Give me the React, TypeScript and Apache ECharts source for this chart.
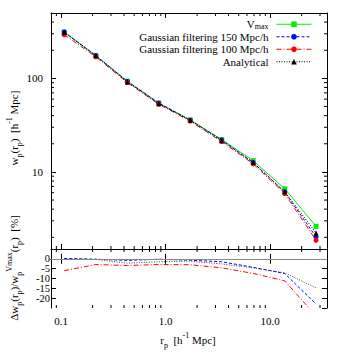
import React, { useEffect, useRef } from 'react';
import * as echarts from 'echarts';

const rp = [0.107, 0.215, 0.43, 0.86, 1.72, 3.44, 6.88, 13.8, 27.5];
const wVmax = [312, 175, 93.5, 54.5, 36, 22.2, 13.2, 6.6, 2.62];
const wGauss150 = [313, 175, 92.8, 54.5, 35.7, 21.9, 12.6, 6.1, 2.02];
const wGauss100 = [293, 170, 90.3, 52.9, 34.9, 21.1, 12.2, 5.85, 1.86];
const wAnalytical = [312, 174.5, 91.6, 53.7, 35.6, 21.6, 12.6, 6.13, 2.23];
const dGauss150 = [0.2, -0.2, -0.8, -0.2, -0.7, -1.5, -4.3, -7.5, -23];
const dGauss100 = [-6.0, -2.9, -3.4, -2.9, -3.0, -4.6, -7.4, -11.2, -29];
const dAnalytical = [0, -0.3, -2.2, -1.5, -1.2, -2.6, -4.6, -7.1, -14.8];
const xMinorTicks = [0.09, 0.2, 0.3, 0.4, 0.5, 0.6, 0.7, 0.8, 0.9, 2, 3, 4, 5, 6, 7, 8, 9, 20, 30];
const yMinorTicks = [2, 3, 4, 5, 6, 7, 8, 9, 20, 30, 40, 50, 60, 70, 80, 90, 200, 300, 400];
const legendNames = ['Vmax', 'Gaussian filtering 150 Mpc/h', 'Gaussian filtering 100 Mpc/h', 'Analytical'];

const FONT = "'Liberation Serif', 'Times New Roman', serif";
const GREEN = '#00ee00';
const BLUE = '#0000ff';
const RED = '#ff0000';
const BLACK = '#000000';

const MINOR = 3;
const MAJOR = 5;

function pairs(ys: number[]) {
  return rp.map((x, i) => [x, ys[i]]);
}

export default function App() {
  const ref = useRef<HTMLDivElement>(null);
  useEffect(() => {
    document.body.style.margin = '0';
    if (!ref.current) return;
    const chart = echarts.init(ref.current, null, { renderer: 'svg' });

    const tickStyle = { color: '#000', width: 1 };
    const baseX = (gridIndex: number, position: string, labels: boolean) => ({
      type: 'log',
      gridIndex,
      position,
      min: 0.08,
      max: 35,
      logBase: 10,
      axisLine: { show: true, lineStyle: { color: '#000', width: 1 } },
      axisTick: { show: true, inside: true, length: MAJOR, lineStyle: tickStyle },
      splitLine: { show: false },
      axisLabel: {
        show: labels,
        showMinLabel: false,
        showMaxLabel: false,
        margin: 7,
        fontFamily: FONT,
        fontSize: 11,
        color: '#000',
        formatter: (v: number) => v.toFixed(1),
      },
    });

    const minorX = (xi: number, yi: number, yDummy: number) => ({
      type: 'custom',
      xAxisIndex: xi,
      yAxisIndex: yi,
      silent: true,
      clip: false,
      z: 5,
      data: xMinorTicks.map((v) => [v, yDummy]),
      renderItem: (params: any, api: any) => {
        const cs = params.coordSys;
        const px = api.coord([api.value(0), api.value(1)])[0];
        const b = cs.y + cs.height;
        return {
          type: 'group',
          children: [
            { type: 'line', shape: { x1: px, y1: b, x2: px, y2: b - MINOR }, style: { stroke: '#000', lineWidth: 1 } },
            { type: 'line', shape: { x1: px, y1: cs.y, x2: px, y2: cs.y + MINOR }, style: { stroke: '#000', lineWidth: 1 } },
          ],
        };
      },
    });

    const minorY = {
      type: 'custom',
      xAxisIndex: 0,
      yAxisIndex: 0,
      silent: true,
      clip: false,
      z: 5,
      data: yMinorTicks.map((v) => [1, v]),
      renderItem: (params: any, api: any) => {
        const cs = params.coordSys;
        const py = api.coord([api.value(0), api.value(1)])[1];
        const r = cs.x + cs.width;
        return {
          type: 'group',
          children: [
            { type: 'line', shape: { x1: cs.x, y1: py, x2: cs.x + MINOR, y2: py }, style: { stroke: '#000', lineWidth: 1 } },
            { type: 'line', shape: { x1: r, y1: py, x2: r - MINOR, y2: py }, style: { stroke: '#000', lineWidth: 1 } },
          ],
        };
      },
    };

    const richMain = { fontFamily: FONT, fontSize: 11, color: '#000', lineHeight: 18 };
    const richSub = { fontFamily: FONT, fontSize: 8, color: '#000', lineHeight: 8, verticalAlign: 'bottom' };
    const richSup = { fontFamily: FONT, fontSize: 8, color: '#000', lineHeight: 8, verticalAlign: 'top' };
    const rich = { m: richMain, sub: richSub, sup: richSup };

    const option: any = {
      animation: false,
      backgroundColor: '#fff',
      grid: [
        { left: 51, top: 13, width: 276, height: 236 },
        { left: 51, top: 249, width: 276, height: 59 },
      ],
      xAxis: [
        baseX(0, 'bottom', false),
        baseX(0, 'top', false),
        baseX(1, 'bottom', true),
        baseX(1, 'top', false),
      ],
      yAxis: [
        {
          type: 'log',
          gridIndex: 0,
          position: 'left',
          min: 1.5,
          max: 500,
          axisLine: { show: true, lineStyle: { color: '#000', width: 1 } },
          axisTick: { show: true, inside: true, length: MAJOR, lineStyle: tickStyle },
          splitLine: { show: false },
          axisLabel: {
            showMinLabel: false,
            showMaxLabel: false,
            margin: 8,
            fontFamily: FONT,
            fontSize: 11,
            color: '#000',
            formatter: (v: number) => String(Math.round(v)),
          },
        },
        {
          type: 'log',
          gridIndex: 0,
          position: 'right',
          min: 1.5,
          max: 500,
          axisLine: { show: true, lineStyle: { color: '#000', width: 1 } },
          axisTick: { show: true, inside: true, length: MAJOR, lineStyle: tickStyle },
          splitLine: { show: false },
          axisLabel: { show: false },
        },
        {
          type: 'value',
          gridIndex: 1,
          position: 'left',
          min: -25,
          max: 5,
          interval: 5,
          axisLine: { show: true, lineStyle: { color: '#000', width: 1 } },
          axisTick: { show: true, inside: true, length: MAJOR, lineStyle: tickStyle },
          splitLine: { show: false },
          axisLabel: {
            margin: 1,
            fontFamily: FONT,
            fontSize: 10.5,
            lineHeight: 9,
            color: '#000',
          },
        },
        {
          type: 'value',
          gridIndex: 1,
          position: 'right',
          min: -25,
          max: 5,
          interval: 5,
          axisLine: { show: true, lineStyle: { color: '#000', width: 1 } },
          axisTick: { show: true, inside: true, length: MAJOR, lineStyle: tickStyle },
          splitLine: { show: false },
          axisLabel: { show: false },
        },
      ],
      legend: {
        data: legendNames,
        orient: 'vertical',
        right: 29,
        top: 18,
        padding: 0,
        align: 'right',
        itemWidth: 35,
        itemHeight: 7,
        itemGap: 0,
        selectedMode: false,
        lineStyle: { width: 1 },
        formatter: (name: string) => (name === 'Vmax' ? '{m|V}{sub|max}' : '{m|' + name + '}'),
        textStyle: {
          fontFamily: FONT,
          fontSize: 11,
          color: '#000',
          lineHeight: 12.5,
          padding: [0, 3, 0, 0],
          rich: {
            m: { fontFamily: FONT, fontSize: 11, color: '#000', lineHeight: 12.5 },
            sub: { fontFamily: FONT, fontSize: 8, color: '#000', lineHeight: 7, verticalAlign: 'bottom' },
          },
        },
      },
      graphic: [
        {
          type: 'text',
          x: 14,
          y: 128,
          rotation: Math.PI / 2,
          style: {
            text: '{m|w}{sub|p}{m|(r}{sub|p}{m|)  [h}{sup|-1}{m| Mpc]}',
            rich,
            align: 'center',
            verticalAlign: 'middle',
          },
        },
        {
          type: 'text',
          x: 14,
          y: 268,
          rotation: Math.PI / 2,
          style: {
            text: '{m|Δw}{sub|p}{m|(r}{sub|p}{m|)/w}{sub|p}{sup|Vmax}{m|(r}{sub|p}{m|)  [%]}',
            rich,
            align: 'center',
            verticalAlign: 'middle',
          },
        },
        {
          type: 'text',
          x: 188,
          y: 340,
          style: {
            text: '{m|r}{sub|p}{m|  [h}{sup|-1}{m| Mpc]}',
            rich,
            align: 'center',
            verticalAlign: 'middle',
          },
        },
      ],
      series: [
        {
          name: 'Vmax',
          type: 'line',
          xAxisIndex: 0,
          yAxisIndex: 0,
          data: pairs(wVmax),
          symbol: 'rect',
          symbolSize: 5,
          lineStyle: { color: GREEN, width: 1, type: 'solid' },
          itemStyle: { color: GREEN },
          z: 2,
        },
        {
          name: 'Gaussian filtering 150 Mpc/h',
          type: 'line',
          xAxisIndex: 0,
          yAxisIndex: 0,
          data: pairs(wGauss150),
          symbol: 'circle',
          symbolSize: 5,
          lineStyle: { color: BLUE, width: 1, type: [3, 2] },
          itemStyle: { color: BLUE },
          z: 3,
        },
        {
          name: 'Gaussian filtering 100 Mpc/h',
          type: 'line',
          xAxisIndex: 0,
          yAxisIndex: 0,
          data: pairs(wGauss100),
          symbol: 'circle',
          symbolSize: 5,
          lineStyle: { color: RED, width: 1, type: [5, 2, 1, 2] },
          itemStyle: { color: RED },
          z: 4,
        },
        {
          name: 'Analytical',
          type: 'line',
          xAxisIndex: 0,
          yAxisIndex: 0,
          data: pairs(wAnalytical),
          symbol: 'triangle',
          symbolSize: 5,
          lineStyle: { color: BLACK, width: 1, type: [1, 1.5] },
          itemStyle: { color: BLACK },
          z: 5,
        },
        {
          name: 'd150',
          type: 'line',
          xAxisIndex: 2,
          yAxisIndex: 2,
          data: pairs(dGauss150),
          symbol: 'none',
          lineStyle: { color: BLUE, width: 1, type: [3, 2] },
          markLine: {
            silent: true,
            symbol: 'none',
            label: { show: false },
            lineStyle: { color: '#888', width: 1, type: 'solid' },
            data: [{ yAxis: 0 }],
          },
        },
        {
          name: 'd100',
          type: 'line',
          xAxisIndex: 2,
          yAxisIndex: 2,
          data: pairs(dGauss100),
          symbol: 'none',
          lineStyle: { color: RED, width: 1, type: [5, 2, 1, 2] },
        },
        {
          name: 'dAn',
          type: 'line',
          xAxisIndex: 2,
          yAxisIndex: 2,
          data: pairs(dAnalytical),
          symbol: 'none',
          lineStyle: { color: '#444', width: 1, type: [1, 1.5] },
        },
        minorX(0, 0, 10),
        minorX(2, 2, 0),
        minorY,
      ],
    };

    chart.setOption(option);
    return () => chart.dispose();
  }, []);

  return <div ref={ref} style={{ width: 341, height: 354 }} />;
}
